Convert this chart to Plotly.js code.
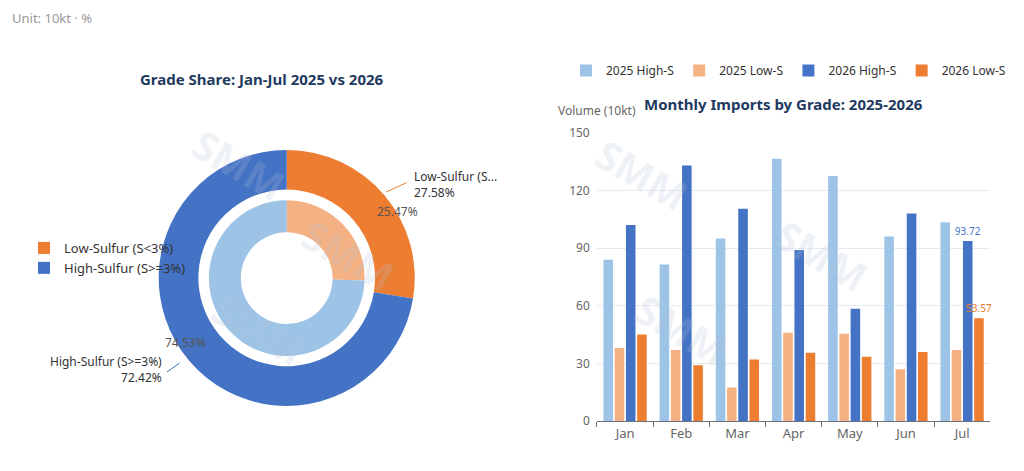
<!DOCTYPE html>
<html>
<head>
<meta charset="utf-8">
<script src="https://cdn.plot.ly/plotly-3.0.1.min.js"></script>
<style>html,body{margin:0;padding:0;background:#fff}#chart{width:1024px;height:471px}</style>
</head>
<body>
<div id="chart"></div>
<script>
var grades = ['Low-Sulfur (S<3%)', 'High-Sulfur (S>=3%)'];
var share2025 = [25.47, 74.53];
var share2026 = [27.58, 72.42];

var months = ['Jan', 'Feb', 'Mar', 'Apr', 'May', 'Jun', 'Jul'];
var high2025 = [84, 81.5, 95, 136.5, 127.5, 96, 103.5];
var low2025 = [38, 37, 17.5, 46, 45.5, 27, 37];
var high2026 = [102, 133, 110.5, 89, 58.5, 108, 93.72];
var low2026 = [45, 29, 32, 35.5, 33.5, 36, 53.57];

var font = 'Microsoft YaHei, Noto Sans, DejaVu Sans, sans-serif';
var navy = '#1f3a5f';

function last_label(values) {
  return values.map(function (v, i) { return i === values.length - 1 ? v.toFixed(2) : ''; });
}

var traces = [
  {
    type: 'pie', labels: grades, values: share2026, hole: 0.69, sort: false,
    direction: 'clockwise', rotation: 0, textinfo: 'none', hoverinfo: 'label+percent',
    marker: {colors: ['#ed7d31', '#4472c4']},
    domain: {x: [0.155, 0.405], y: [0.138, 0.682]}, legend: 'legend'
  },
  {
    type: 'pie', labels: grades, values: share2025, hole: 0.59, sort: false,
    direction: 'clockwise', rotation: 0, textinfo: 'none', showlegend: false,
    marker: {colors: ['#f4b183', '#9dc3e6']},
    domain: {x: [0.204, 0.356], y: [0.244, 0.575]}
  }
];

var barSeries = [
  ['2025 High-S', high2025, '#9dc3e6', false],
  ['2025 Low-S', low2025, '#f4b183', false],
  ['2026 High-S', high2026, '#4472c4', true],
  ['2026 Low-S', low2026, '#ed7d31', true]
];
barSeries.forEach(function (s) {
  traces.push({
    type: 'bar', name: s[0], x: months, y: s[1], marker: {color: s[2]},
    text: s[3] ? last_label(s[1]) : undefined, textposition: 'outside', cliponaxis: false,
    constraintext: 'none', textfont: {size: 10, color: s[2]}, legend: 'legend2'
  });
});

var annotations = [
  {text: 'Unit: 10kt · %', x: 10, y: 18, size: 13},
  {text: 'Low-Sulfur (S...<br>27.58%', x: 412, y: 184, color: '#333'},
  {text: '25.47%', x: 375, y: 211, color: '#555'},
  {text: '74.53%', x: 163, y: 342, color: '#555'},
  {text: 'High-Sulfur (S>=3%)<br>72.42%', x: 48, y: 369, align: 'right', color: '#333'},
  {text: 'Volume (10kt)', x: 556, y: 111, color: '#666'}
].map(function (a) {
  return {
    text: a.text, xref: 'paper', yref: 'paper', x: a.x / 1024, y: 1 - a.y / 471,
    xanchor: 'left', yanchor: 'middle', showarrow: false, align: a.align || 'left',
    font: {size: a.size || 12, color: a.color || '#999', family: font}
  };
});

// leader lines of the outer ring labels
[[386, 192, 22, -10, '#ed7d31'], [167, 372, 14, -10, '#4472c4']].forEach(function (l) {
  annotations.push({
    text: '', xref: 'paper', yref: 'paper', x: l[0] / 1024, y: 1 - l[1] / 471,
    showarrow: true, arrowhead: 0, arrowwidth: 1, arrowcolor: l[4], ax: l[2], ay: l[3]
  });
});

[[180, 165], [290, 255], [200, 380], [700, 175], [880, 255], [740, 380]].forEach(function (p) {
  annotations.push({
    text: '<b>SMM</b>', xref: 'paper', yref: 'paper', x: p[0] / 1024, y: 1 - p[1] / 471,
    showarrow: false, textangle: 30, font: {size: 40, color: 'rgba(180,195,210,0.22)', family: font}
  });
});

annotations.push({
  text: '<b>Grade Share: Jan-Jul 2025 vs 2026</b>', xref: 'paper', yref: 'paper', xanchor: 'center',
  x: 262 / 1024, y: 1 - 67 / 471, showarrow: false, font: {size: 15, color: navy, family: font}
});
annotations.push({
  text: '<b>Monthly Imports by Grade: 2025-2026</b>', xref: 'paper', yref: 'paper', xanchor: 'center',
  x: 783 / 1024, y: 1 - 92 / 471, showarrow: false, font: {size: 15, color: navy, family: font}
});

var layout = {
  width: 1024, height: 471,
  margin: {l: 0, r: 0, t: 0, b: 0},
  paper_bgcolor: '#fff', plot_bgcolor: '#fff',
  font: {family: font, color: '#555', size: 12},
  barmode: 'group', bargap: 0.2, bargroupgap: 0.15,
  xaxis: {
    domain: [0.583, 0.967], tickson: 'boundaries', ticks: 'outside', ticklen: 5,
    tickcolor: '#6e7079', showline: true, linecolor: '#6e7079', tickfont: {size: 13, color: '#666'}
  },
  yaxis: {
    domain: [0.106, 0.718], range: [0, 150], dtick: 30, gridcolor: '#e6ebf2',
    zeroline: false, tickfont: {size: 12, color: '#666'}, ticksuffix: '  '
  },
  legend: {
    x: 24 / 1024, y: 1 - 233 / 471, xanchor: 'left', yanchor: 'top', bgcolor: 'rgba(0,0,0,0)',
    font: {size: 13, color: '#333'}, tracegroupgap: 6
  },
  legend2: {
    orientation: 'h', x: 566 / 1024, y: 1 - 56 / 471, xanchor: 'left', yanchor: 'top',
    bgcolor: 'rgba(0,0,0,0)', font: {size: 12, color: '#333'}
  },
  annotations: annotations
};

Plotly.newPlot('chart', traces, layout, {displayModeBar: false});
</script>
</body>
</html>
